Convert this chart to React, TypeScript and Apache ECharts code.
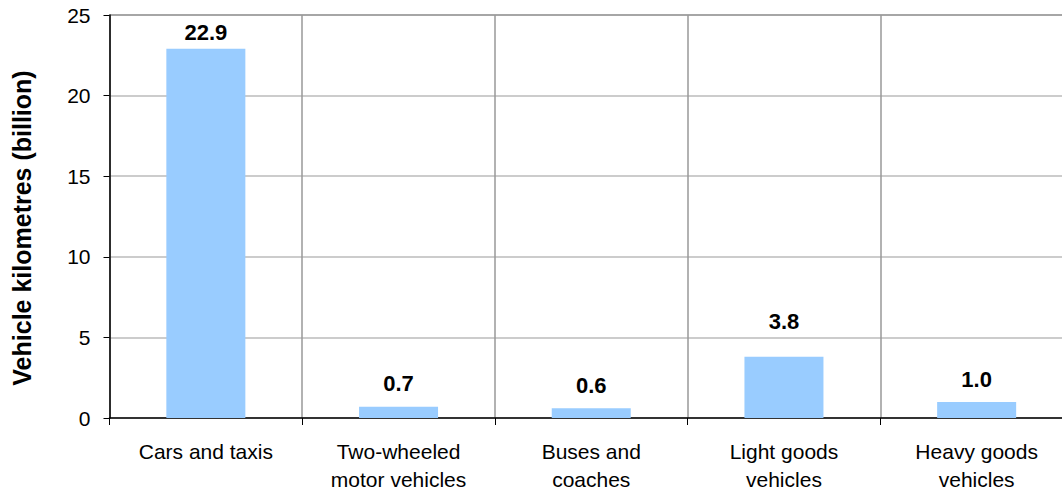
import React, { useEffect, useRef } from "react";
import * as echarts from "echarts";

const categories = [
  "Cars and taxis",
  "Two-wheeled\nmotor vehicles",
  "Buses and\ncoaches",
  "Light goods\nvehicles",
  "Heavy goods\nvehicles",
];
const values = [22.9, 0.7, 0.6, 3.8, 1.0];
const yTitle = "Vehicle kilometres (billion)";

// label distance above each bar (style only)
const labelGaps = [5, 12, 12, 24, 11];

export default function App() {
  const ref = useRef<HTMLDivElement>(null);
  useEffect(() => {
    if (!ref.current) return;
    const chart = echarts.init(ref.current, undefined, { renderer: "svg" });
    const font = "'Liberation Sans', Arial, sans-serif";
    chart.setOption({
      animation: false,
      backgroundColor: "#ffffff",
      grid: { left: 109.5, top: 15, height: 403, right: 7, containLabel: false },
      graphic: [
        {
          type: "text",
          x: 22,
          y: 228,
          rotation: Math.PI / 2,
          style: {
            text: yTitle,
            fill: "#000",
            font: `bold 25px ${font}`,
            textAlign: "center",
            textVerticalAlign: "middle",
          },
        },
      ],
      xAxis: {
        type: "category",
        data: categories,
        axisLine: { lineStyle: { color: "#000", width: 1.5 } },
        axisTick: { show: true, length: 7, lineStyle: { color: "#000", width: 1 } },
        splitLine: { show: true, lineStyle: { color: "#999", width: 1.5 } },
        axisLabel: {
          color: "#000",
          fontFamily: font,
          fontSize: 21,
          lineHeight: 28,
          margin: 19,
          interval: 0,
        },
      },
      yAxis: {
        type: "value",
        min: 0,
        max: 25,
        interval: 5,
        axisLine: { show: true, lineStyle: { color: "#000", width: 1.5 } },
        axisTick: { show: true, length: 6, lineStyle: { color: "#000" } },
        axisLabel: { color: "#000", fontFamily: font, fontSize: 21, margin: 19 },
        splitLine: {
          show: true,
          lineStyle: { color: ["#bbb", "#bbb", "#bbb", "#bbb", "#bbb", "#888"], width: 1.5 },
        },
      },
      series: [
        {
          type: "bar",
          data: values.map((v, i) => ({ value: v, label: { distance: labelGaps[i] } })),
          barWidth: "41%",
          itemStyle: { color: "#99ccff" },
          label: {
            show: true,
            position: "top",
            formatter: (p: any) => Number(p.value).toFixed(1),
            color: "#000",
            fontFamily: font,
            fontSize: 22,
            fontWeight: "bold",
          },
        },
      ],
    });
    return () => chart.dispose();
  }, []);
  return (
    <div
      ref={ref}
      style={{ position: "fixed", left: 0, top: 0, width: 1080, height: 493 }}
    />
  );
}
